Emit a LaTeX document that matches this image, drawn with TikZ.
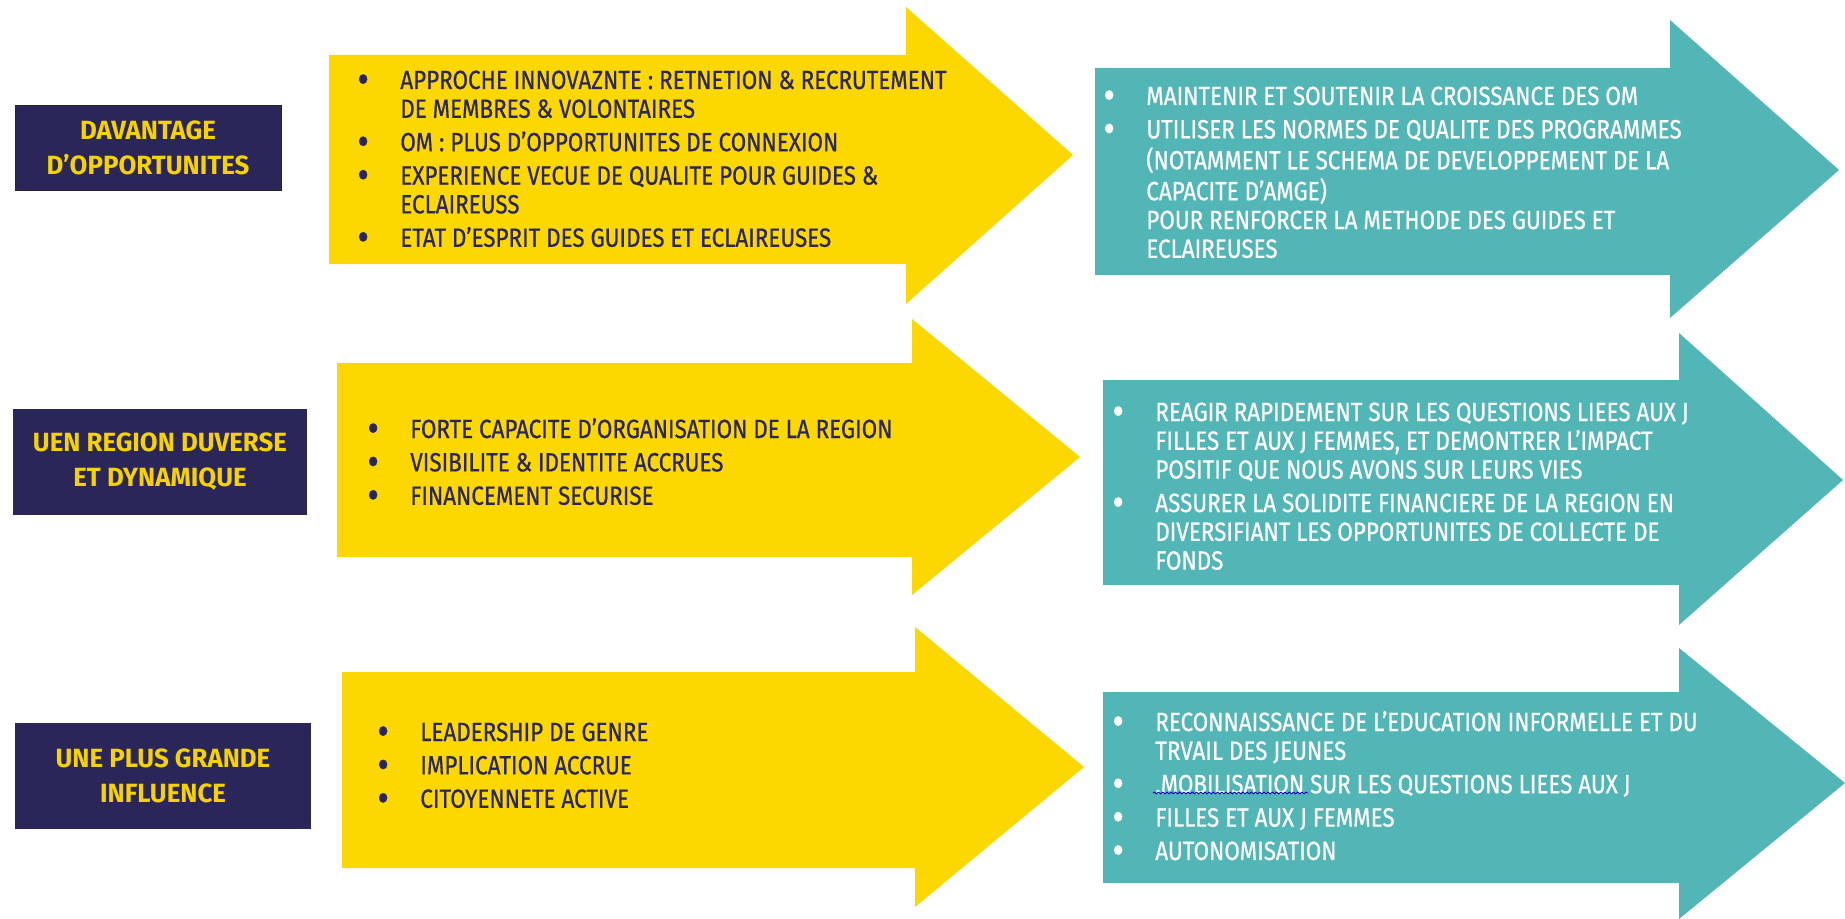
\documentclass[tikz,border=0pt]{standalone}
\usepackage{fontspec}
\setmainfont{Fira Sans}[FakeStretch=0.85, FakeBold=0.6]
\newfontfamily\titrefont{Fira Sans}[FakeStretch=0.98]
\usepackage{tikz}
\usetikzlibrary{decorations.pathmorphing}

\definecolor{navyband}{HTML}{2B2659}
\definecolor{goldarrow}{HTML}{FDD800}
\definecolor{tealarrow}{HTML}{52B6B7}
\definecolor{titlegold}{HTML}{F5D200}

\tikzset{
  titlebox/.style={fill=navyband, text=titlegold, align=center, inner sep=0pt,
    font=\titrefont\bfseries\fontsize{15}{19.9}\selectfont},
  goldlist/.style={text=navyband, anchor=base west, inner sep=0pt,
    font=\fontsize{15}{16.4}\selectfont},
  teallist/.style={text=white, anchor=base west, inner sep=0pt,
    font=\fontsize{15}{16.4}\selectfont},
}
\newcommand{\gap}{\\[2.6pt]}
\newcommand{\puce}{\raisebox{-0.17em}{\scalebox{1.6}{\textbullet}}}

\begin{document}
\begin{tikzpicture}[x=0.02cm, y=-0.02cm]
  \useasboundingbox (0,0) rectangle (1845,919);

  %% Les trois titres a gauche
  \node[titlebox, draw=black!85, minimum width=5.32cm, minimum height=1.70cm] (titre1) at (148,147.5) {DAVANTAGE\\D’OPPORTUNITES};
  \node[titlebox, minimum width=5.88cm, minimum height=2.12cm] (titre2) at (160,462) {UEN REGION DUVERSE\\ET DYNAMIQUE};
  \node[titlebox, minimum width=5.92cm, minimum height=2.12cm] (titre3) at (163,776) {UNE PLUS GRANDE\\INFLUENCE};

  %% Les fleches jaunes
  \fill[goldarrow] (329,55) -- (906,55) -- (906,7) -- (1073,155) -- (906,304) -- (906,264) -- (329,264) -- cycle;
  \fill[goldarrow] (337,363) -- (912,363) -- (912,319) -- (1080,457) -- (912,595) -- (912,557) -- (337,557) -- cycle;
  \fill[goldarrow] (342,672) -- (915,672) -- (915,627) -- (1084,767) -- (915,907) -- (915,868) -- (342,868) -- cycle;

  %% Les fleches turquoise
  \fill[tealarrow] (1095,68) -- (1670,68) -- (1670,20) -- (1839,170) -- (1670,318) -- (1670,275) -- (1095,275) -- cycle;
  \fill[tealarrow] (1103,380) -- (1679,380) -- (1679,333) -- (1843,480) -- (1679,625) -- (1679,585) -- (1103,585) -- cycle;
  \fill[tealarrow] (1103,692) -- (1679,692) -- (1679,648) -- (1845,783) -- (1679,919) -- (1679,883) -- (1103,883) -- cycle;

  %% Texte des fleches jaunes
  \node[goldlist] (jaune1) at (357,89) {\begin{tabular}[t]{@{}p{0.86cm}@{}l@{}}
    \puce & APPROCHE INNOVAZNTE : RETNETION \& RECRUTEMENT\\
          & DE MEMBRES \& VOLONTAIRES\gap
    \puce & OM : PLUS D’OPPORTUNITES DE CONNEXION\gap
    \puce & EXPERIENCE VECUE DE QUALITE POUR GUIDES \&\\
          & ECLAIREUSS\gap
    \puce & ETAT D’ESPRIT DES GUIDES ET ECLAIREUSES
  \end{tabular}};
  \node[goldlist] (jaune2) at (367,438) {\begin{tabular}[t]{@{}p{0.86cm}@{}l@{}}
    \puce & FORTE CAPACITE D’ORGANISATION DE LA REGION\gap
    \puce & VISIBILITE \& IDENTITE ACCRUES\gap
    \puce & FINANCEMENT SECURISE
  \end{tabular}};
  \node[goldlist] (jaune3) at (377,741) {\begin{tabular}[t]{@{}p{0.86cm}@{}l@{}}
    \puce & LEADERSHIP DE GENRE\gap
    \puce & IMPLICATION ACCRUE\gap
    \puce & CITOYENNETE ACTIVE
  \end{tabular}};

  %% Texte des fleches turquoise
  \node[teallist] (turq1) at (1103,105) {\begin{tabular}[t]{@{}p{0.86cm}@{}l@{}}
    \puce & MAINTENIR ET SOUTENIR LA CROISSANCE DES OM\gap
    \puce & UTILISER LES NORMES DE QUALITE DES PROGRAMMES\\
          & (NOTAMMENT LE SCHEMA DE DEVELOPPEMENT DE LA\\
          & CAPACITE D’AMGE)\\
          & POUR RENFORCER LA METHODE DES GUIDES ET\\
          & ECLAIREUSES
  \end{tabular}};
  \node[teallist] (turq2) at (1112,421) {\begin{tabular}[t]{@{}p{0.86cm}@{}l@{}}
    \puce & REAGIR RAPIDEMENT SUR LES QUESTIONS LIEES AUX J\\
          & FILLES ET AUX J FEMMES, ET DEMONTRER L’IMPACT\\
          & POSITIF QUE NOUS AVONS SUR LEURS VIES\gap
    \puce & ASSURER LA SOLIDITE FINANCIERE DE LA REGION EN\\
          & DIVERSIFIANT LES OPPORTUNITES DE COLLECTE DE\\
          & FONDS
  \end{tabular}};
  \node[teallist] (turq3) at (1112,731) {\begin{tabular}[t]{@{}p{0.86cm}@{}l@{}}
    \puce & RECONNAISSANCE DE L’EDUCATION INFORMELLE ET DU\\
          & TRVAIL DES JEUNES\gap
    \puce & .MOBILISATION SUR LES QUESTIONS LIEES AUX J\gap
    \puce & FILLES ET AUX J FEMMES\gap
    \puce & AUTONOMISATION
  \end{tabular}};

  % soulignement du correcteur
  \draw[blue!75!black, line width=0.5pt, decorate, decoration={snake, amplitude=0.5pt, segment length=2.4pt}] (1153,793) -- (1308,793);
\end{tikzpicture}
\end{document}
